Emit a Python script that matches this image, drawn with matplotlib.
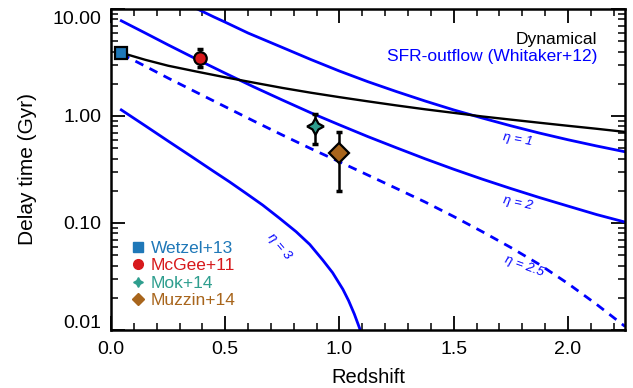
import matplotlib
matplotlib.use("Agg")
import matplotlib.pyplot as plt
import matplotlib.transforms as mtransforms
from matplotlib.lines import Line2D
from matplotlib.ticker import MultipleLocator, LogLocator, FixedFormatter, FixedLocator, NullFormatter

plt.rcParams["font.family"] = ["Liberation Sans", "DejaVu Sans"]

# dynamical time (black)
z_dyn = [0.045, 0.15, 0.25, 0.375, 0.5, 0.625, 0.75, 0.875, 1.0, 1.125, 1.25, 1.375,
         1.5, 1.625, 1.75, 1.875, 2.0, 2.125, 2.25]
t_dyn = [3.9, 3.35, 2.95, 2.6, 2.3, 2.05, 1.83, 1.65, 1.5, 1.37, 1.255, 1.155,
         1.07, 0.99, 0.925, 0.865, 0.81, 0.76, 0.71]

# SFR-outflow curves (Whitaker+12)
z_eta1 = [0.378, 0.45, 0.5, 0.6, 0.75, 0.875, 1.0, 1.125, 1.25, 1.375, 1.5, 1.625,
          1.75, 1.875, 2.0, 2.125, 2.25]
t_eta1 = [10.0, 8.43, 7.53, 5.96, 4.37, 3.37, 2.63, 2.09, 1.69, 1.38, 1.14, 0.957,
          0.81, 0.693, 0.60, 0.525, 0.463]
z_eta2 = [0.045, 0.15, 0.25, 0.375, 0.5, 0.625, 0.75, 0.875, 1.0, 1.125, 1.25, 1.375,
          1.5, 1.625, 1.75, 1.875, 2.0, 2.125, 2.25]
t_eta2 = [7.76, 5.96, 4.62, 3.39, 2.51, 1.87, 1.41, 1.07, 0.826, 0.641, 0.504, 0.398,
          0.318, 0.257, 0.21, 0.173, 0.144, 0.120, 0.102]
z_eta25 = [0.045, 0.15, 0.25, 0.375, 0.5, 0.625, 0.75, 0.875, 1.0, 1.125, 1.25, 1.375,
           1.5, 1.625, 1.75, 1.875, 2.0, 2.125, 2.25]
t_eta25 = [3.8, 2.92, 2.26, 1.66, 1.22, 0.897, 0.664, 0.495, 0.373, 0.28, 0.21, 0.157,
           0.115, 0.083, 0.059, 0.041, 0.0272, 0.0174, 0.0108]
z_eta3 = [0.045, 0.15, 0.25, 0.35, 0.45, 0.518, 0.59, 0.664, 0.737, 0.81, 0.87, 0.927,
          0.97, 1.015, 1.04, 1.065, 1.088, 1.1]
t_eta3 = [1.14, 0.81, 0.583, 0.421, 0.303, 0.243, 0.19, 0.147, 0.111, 0.083, 0.063, 0.045,
          0.0343, 0.024, 0.0188, 0.0141, 0.0104, 0.0087]

# observations
obs_names = ["Wetzel+13", "McGee+11", "Mok+14", "Muzzin+14"]
obs_z = [0.045, 0.39, 0.895, 0.997]
obs_t = [3.9, 3.5, 0.806, 0.448]
obs_lo = [None, 2.89, 0.547, 0.199]
obs_hi = [None, 4.2, 1.04, 0.704]
obs_colors = ["#1f78b8", "#d7191c", "#2e9e8e", "#a8651c"]
obs_markers = ["s", "o", (4, 1, 0), "D"]
obs_sizes = [8.5, 9, 12, 10]
leg_sizes = [7, 7, 7, 6]

eta_labels = ["η = 1", "η = 2", "η = 2.5", "η = 3"]
eta_lab_pos = [(1.78, 0.60), (1.78, 0.154), (1.81, 0.039), (0.737, 0.06)]
eta_lab_rot = [-10, -12, -20, -50]

fig = plt.figure(figsize=(6.33, 3.88), dpi=100)
ax = fig.add_axes([0.1754, 0.1495, 0.812, 0.8273])

blue = "#0000ff"
ax.plot(z_eta1, t_eta1, color=blue, lw=2.0)
ax.plot(z_eta2, t_eta2, color=blue, lw=2.0)
ax.plot(z_eta25, t_eta25, color=blue, lw=2.0, dashes=(3.2, 2.5))
ax.plot(z_eta3, t_eta3, color=blue, lw=2.0)
ax.plot(z_dyn, t_dyn, color="black", lw=1.7)

for lab, (x, y), r in zip(eta_labels, eta_lab_pos, eta_lab_rot):
    ax.text(x, y, lab, color=blue, fontsize=9.5, style="italic",
            rotation=r, ha="center", va="center", rotation_mode="anchor")

for i in range(len(obs_names)):
    if obs_lo[i] is not None:
        ax.errorbar([obs_z[i]], [obs_t[i]],
                    yerr=[[obs_t[i] - obs_lo[i]], [obs_hi[i] - obs_t[i]]],
                    fmt="none", ecolor="black", elinewidth=1.8, capsize=2.5, capthick=2.5,
                    zorder=4)
    ax.plot([obs_z[i]], [obs_t[i]], marker=obs_markers[i], ms=obs_sizes[i],
            mfc=obs_colors[i], mec="black", mew=1.6, ls="none", zorder=5, clip_on=False)

handles = [Line2D([], [], ls="none", marker=m, ms=s, mfc=c, mec=c)
           for m, s, c in zip(obs_markers, leg_sizes, obs_colors)]
ax.legend(handles, obs_names, loc="lower left", bbox_to_anchor=(0.015, 0.025),
          frameon=False, fontsize=12.5, labelcolor=obs_colors, handlelength=0.6,
          handletextpad=0.45, labelspacing=0.13, borderpad=0.3, borderaxespad=0.5)

ax.text(0.946, 0.905, "Dynamical", transform=ax.transAxes, ha="right", va="center",
        fontsize=12.5, color="black")
ax.text(0.946, 0.852, "SFR-outflow (Whitaker+12)", transform=ax.transAxes, ha="right",
        va="center", fontsize=12.5, color=blue)

ax.set_yscale("log")
ax.set_xlim(0, 2.25)
ax.set_ylim(0.01, 10)
ax.xaxis.set_major_locator(MultipleLocator(0.5))
ax.xaxis.set_minor_locator(MultipleLocator(0.1))
ax.yaxis.set_major_locator(FixedLocator([0.01, 0.1, 1, 10]))
ax.yaxis.set_major_formatter(FixedFormatter(["0.01", "0.10", "1.00", "10.00"]))
ax.yaxis.set_minor_locator(LogLocator(base=10, subs=range(2, 10)))
ax.yaxis.set_minor_formatter(NullFormatter())
ax.tick_params(which="both", direction="in", top=True, right=True, labelsize=14)
ax.tick_params(which="major", length=10, width=1.3)
ax.tick_params(which="minor", length=5, width=1.1)
ax.tick_params(axis="x", which="major", pad=8)
ax.tick_params(axis="y", which="major", pad=7)
for s in ax.spines.values():
    s.set_linewidth(1.8)

# keep the end labels inside the frame, as in the original
yticks = ax.yaxis.get_major_ticks()
for tick, dy in [(yticks[0], 6), (yticks[-1], -6)]:
    off = mtransforms.ScaledTranslation(0, dy / 72, fig.dpi_scale_trans)
    tick.label1.set_transform(tick.label1.get_transform() + off)

ax.set_xlabel("Redshift", fontsize=14.5, labelpad=7)
ax.set_ylabel("Delay time (Gyr)", fontsize=15, labelpad=11)

fig.savefig("out.png", dpi=100)
